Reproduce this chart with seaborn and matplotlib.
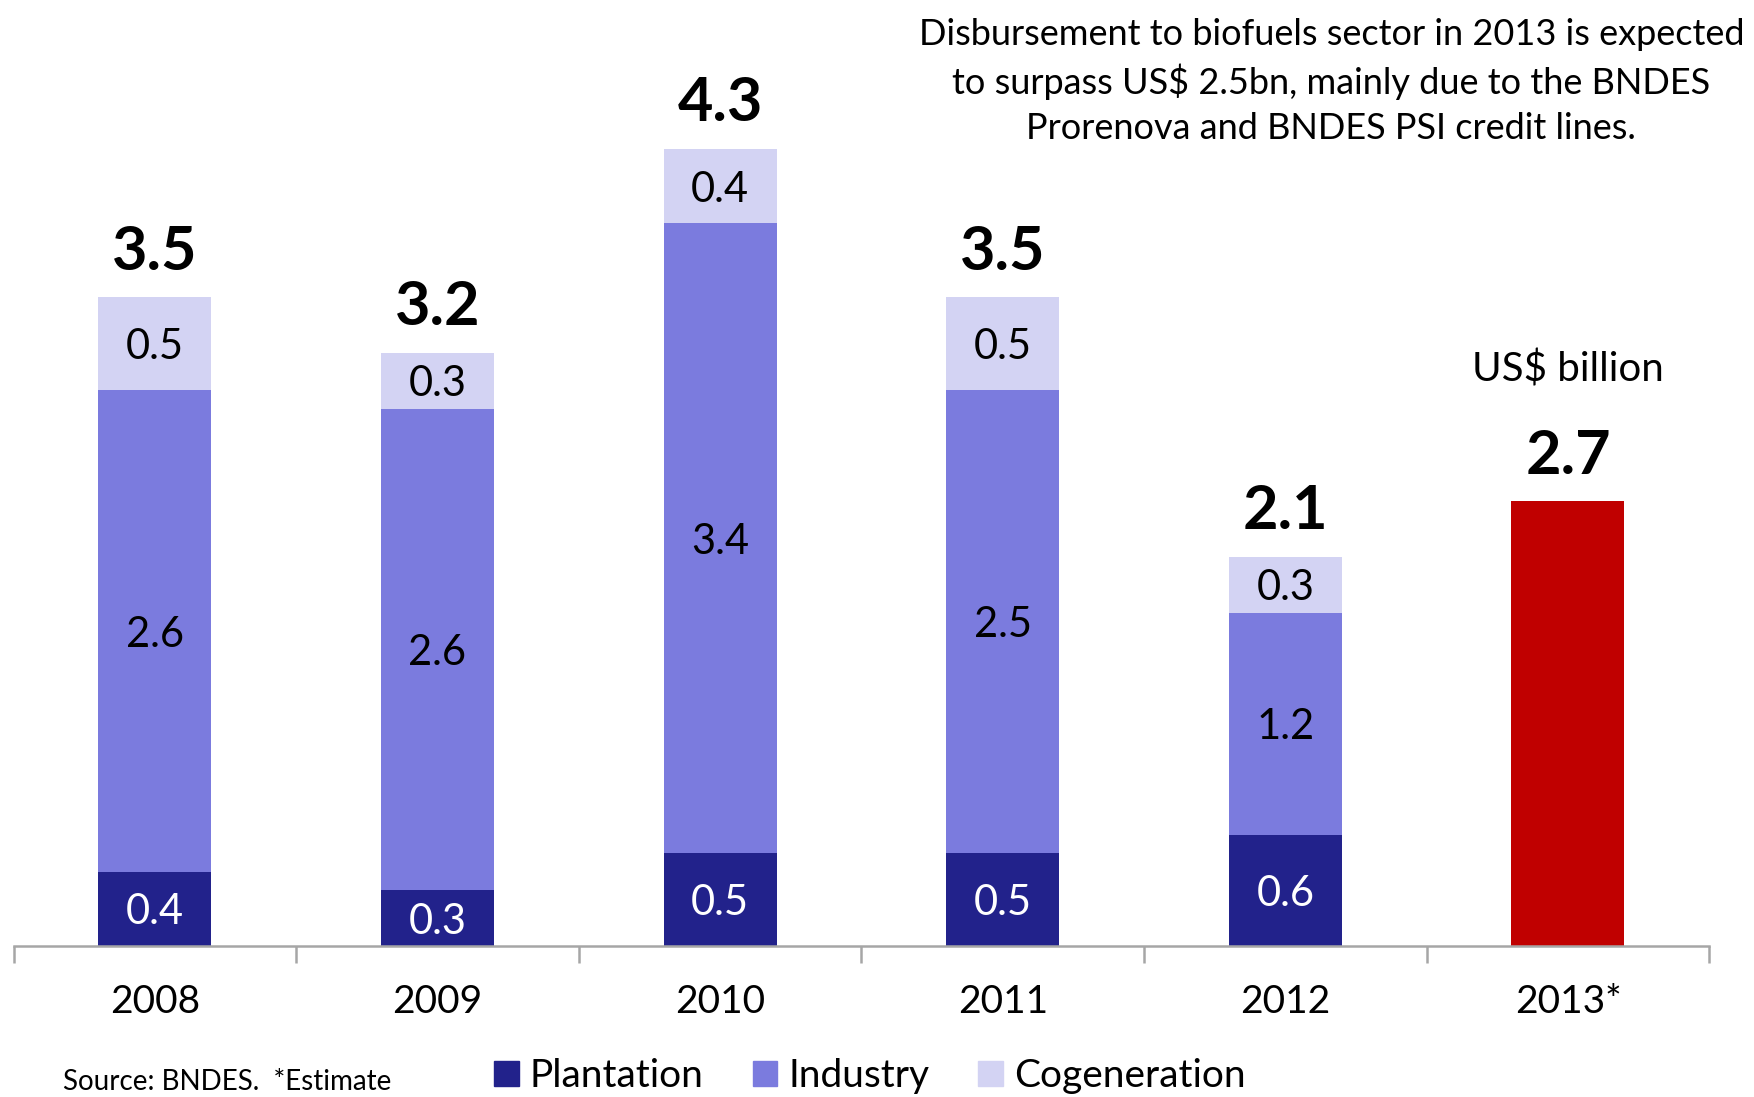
import matplotlib
matplotlib.use("Agg")
import matplotlib.pyplot as plt
from matplotlib.patches import Patch
import seaborn as sns
import numpy as np
import pandas as pd

# Datos (US$ billion)
anios = ["2008", "2009", "2010", "2011", "2012", "2013*"]
plantation = [0.4, 0.3, 0.5, 0.5, 0.6, 0.0]
industry = [2.6, 2.6, 3.4, 2.5, 1.2, 0.0]
cogeneration = [0.5, 0.3, 0.4, 0.5, 0.3, 0.0]
estimado_2013 = [2.4]
totales = ["3.5", "3.2", "4.3", "3.5", "2.1", "2.7"]

C_PLANT = "#22228B"
C_IND = "#7B7BDE"
C_COG = "#D3D3F3"
C_RED = "#C00000"
GRIS = "#A6A6A6"

sns.set_theme(style="white")
plt.rcParams["font.family"] = ["Lato", "DejaVu Sans"]
plt.rcParams["text.color"] = "black"
plt.rcParams["xtick.labelcolor"] = "black"

df = pd.DataFrame({"anio": anios, "plantation": plantation,
                   "industry": industry, "cogeneration": cogeneration})
df["c1"] = df["plantation"]
df["c2"] = df["c1"] + df["industry"]
df["c3"] = df["c2"] + df["cogeneration"]

fig = plt.figure(figsize=(17.54, 10.97), dpi=100)
ax = fig.add_axes([0.0077, 0.1376, 0.9668, 0.8446])

# barras apiladas: de la más alta a la más baja
for col, color in [("c3", C_COG), ("c2", C_IND), ("c1", C_PLANT)]:
    sns.barplot(data=df, x="anio", y=col, order=anios, color=color,
                width=0.4, linewidth=0, saturation=1, ax=ax)
sns.barplot(x=["2013*"], y=estimado_2013, order=anios, color=C_RED,
            width=0.4, linewidth=0, saturation=1, ax=ax)

# etiquetas de cada segmento
for i in range(len(anios)):
    base = 0.0
    for vals, tcolor in [(plantation, "white"), (industry, "black"),
                         (cogeneration, "black")]:
        v = vals[i]
        if v > 0:
            ax.text(i, base + v / 2, f"{v:.1f}", ha="center",
                    va="center_baseline", fontsize=30, color=tcolor)
        base += v

# totales en negrita
tops = list(df["c3"][:5]) + estimado_2013
for i, (t, lab) in enumerate(zip(tops, totales)):
    ax.annotate(lab, xy=(i, t), xytext=(0, 20), textcoords="offset points",
                ha="center", va="baseline", fontsize=44, fontweight="bold",
                color="black")

ax.text(5, 3.13, "US$ billion", ha="center", va="center_baseline", fontsize=29)

ax.set_xlim(-0.5, 5.5)
ax.set_ylim(0, 5)
ax.set_xlabel("")
ax.set_ylabel("")
ax.set_yticks([])
for s in ["top", "left", "right"]:
    ax.spines[s].set_visible(False)
ax.spines["bottom"].set_color(GRIS)
ax.spines["bottom"].set_linewidth(1.8)
ax.set_xticks(np.arange(-0.5, 6, 1), minor=True)
ax.tick_params(axis="x", which="minor", bottom=True, length=12, width=1.8,
               color=GRIS, direction="out")
ax.tick_params(axis="x", which="major", length=0, pad=27, labelsize=28,
               labelcolor="black")

fig.text(0.759, 0.984,
         "Disbursement to biofuels sector in 2013 is expected\n"
         "to surpass US$ 2.5bn, mainly due to the BNDES\n"
         "Prorenova and BNDES PSI credit lines.",
         ha="center", va="top", fontsize=26, linespacing=1.43)

fig.text(0.036, 0.006, "Source: BNDES.  *Estimate", ha="left",
         va="baseline", fontsize=20)

handles = [Patch(color=C_PLANT), Patch(color=C_IND), Patch(color=C_COG)]
fig.legend(handles, ["Plantation", "Industry", "Cogeneration"], ncol=3,
           loc="center left", bbox_to_anchor=(0.2816, 0.019), frameon=False,
           fontsize=28, handlelength=0.64, handleheight=0.64,
           handletextpad=0.28, columnspacing=1.26, borderpad=0,
           borderaxespad=0)

fig.savefig("out.png", dpi=100)
